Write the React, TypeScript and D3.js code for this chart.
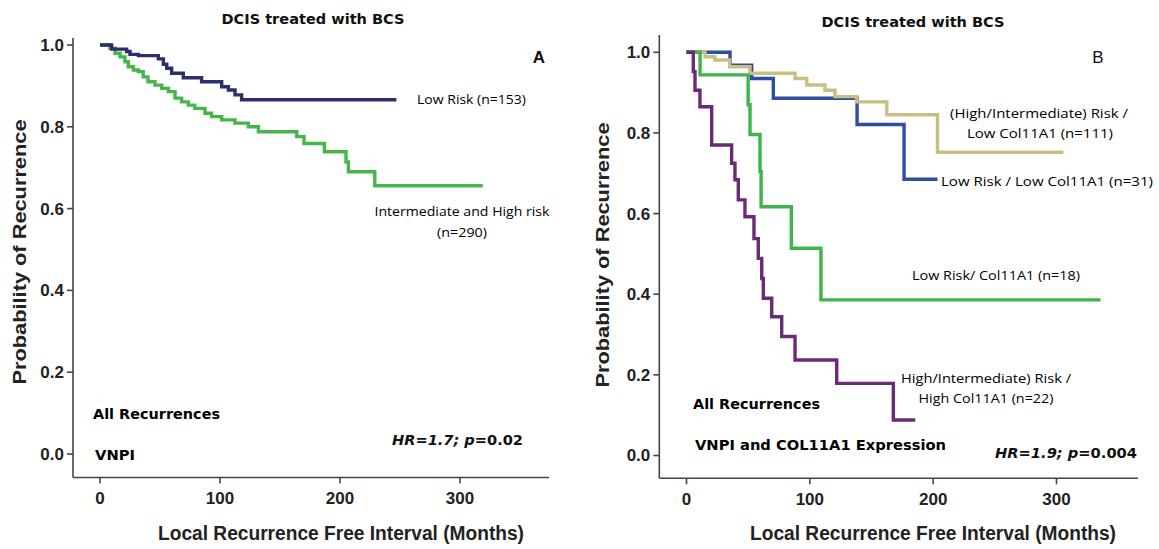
import * as d3 from "d3"
import { useRef, useEffect } from "react"

// tick values shared by both panels
const xTicks = [0, 100, 200, 300]
const yTicks = [0, 0.2, 0.4, 0.6, 0.8, 1.0]

// Panel A: VNPI
const lowRiskTimes = [0, 9.7, 22.2, 25, 32, 48.6, 52.8, 55.6, 59.7, 69.4, 84.7, 101.4, 107, 112.5, 118, 247]
const lowRiskSurv = [1, 0.99, 0.984, 0.977, 0.974, 0.966, 0.953, 0.943, 0.931, 0.92, 0.91, 0.898, 0.89, 0.878, 0.866, 0.866]

const intHighTimes = [0, 8.3, 12.5, 16.7, 20.8, 23.6, 27.8, 32, 36, 40, 45.8, 51.4, 57, 62.5, 68, 73.6, 79, 87.5, 93, 101.4, 112.5, 123.6, 132, 164, 170, 187, 205, 207, 229, 319]
const intHighSurv = [1, 0.992, 0.98, 0.971, 0.959, 0.947, 0.939, 0.935, 0.922, 0.91, 0.902, 0.894, 0.886, 0.87, 0.861, 0.853, 0.845, 0.833, 0.825, 0.817, 0.809, 0.8, 0.788, 0.776, 0.759, 0.739, 0.714, 0.69, 0.656, 0.656]

// Panel B: VNPI and COL11A1
const hiLowColTimes = [0, 15, 23, 35, 51.5, 88, 97.5, 112.3, 120.4, 138, 162.4, 203.5, 305.6]
const hiLowColSurv = [1, 0.989, 0.981, 0.964, 0.948, 0.935, 0.919, 0.906, 0.89, 0.877, 0.845, 0.752, 0.752]

const lowLowColTimes = [0, 35.3, 52.9, 70.4, 138.3, 176.4, 203.5]
const lowLowColSurv = [1, 0.968, 0.935, 0.886, 0.821, 0.685, 0.685]

const lowColTimes = [0, 11, 50, 51.5, 59.6, 60.5, 85, 109, 335.7]
const lowColSurv = [1, 0.944, 0.87, 0.796, 0.704, 0.617, 0.514, 0.386, 0.386]

const hiHighColTimes = [0, 5.5, 6.9, 10.9, 20.4, 36.6, 39.3, 42, 47.4, 54.7, 58.2, 61, 62.3, 69.1, 77.2, 88, 121.8, 167.7, 185.5]
const hiHighColSurv = [1, 0.952, 0.906, 0.865, 0.77, 0.725, 0.684, 0.634, 0.592, 0.538, 0.489, 0.439, 0.39, 0.344, 0.295, 0.237, 0.179, 0.088, 0.088]

type Curve = { times: number[]; surv: number[]; color: string }
type Label = {
  text: string
  x: number
  y: number
  anchor?: string
  bold?: boolean
  len?: number
}

type Panel = {
  xRange: [number, number]
  yRange: [number, number]
  axisX: number
  axisY: number
  axisRight: number
  axisTop: number
  title: { x: number; y: number }
  letter: { text: string; x: number; y: number; bold: boolean }
  yTitle: { x: number; y: number }
  xTitle: { x: number; y: number }
  curves: Curve[]
  labels: Label[]
  hr: { hr: string; p: string; x: number; y: number; len: number }
}

const panels: Panel[] = [
  {
    xRange: [100, 460],
    yRange: [454, 45],
    axisX: 73,
    axisY: 477.5,
    axisRight: 549,
    axisTop: 38,
    title: { x: 313, y: 19 },
    letter: { text: "A", x: 539, y: 57, bold: true },
    yTitle: { x: 19, y: 252 },
    xTitle: { x: 341, y: 533 },
    curves: [
      { times: intHighTimes, surv: intHighSurv, color: "#45b649" },
      { times: lowRiskTimes, surv: lowRiskSurv, color: "#2c2f6c" },
    ],
    labels: [
      { text: "Low Risk (n=153)", x: 417, y: 99, len: 109 },
      { text: "Intermediate and High risk", x: 462, y: 211, anchor: "middle", len: 175 },
      { text: "(n=290)", x: 462, y: 232, anchor: "middle", len: 50 },
      { text: "All Recurrences", x: 93, y: 414, bold: true, len: 127 },
      { text: "VNPI", x: 95, y: 455, bold: true, len: 40 },
    ],
    hr: { hr: "1.7", p: "0.02", x: 523, y: 440, len: 131 },
  },
  {
    xRange: [686.5, 1056.5],
    yRange: [455.5, 52.3],
    axisX: 659.3,
    axisY: 478.3,
    axisRight: 1138,
    axisTop: 35,
    title: { x: 913, y: 22 },
    letter: { text: "B", x: 1098, y: 57, bold: false },
    yTitle: { x: 602, y: 255 },
    xTitle: { x: 933, y: 533 },
    curves: [
      { times: lowLowColTimes, surv: lowLowColSurv, color: "#2f4ea1" },
      { times: hiLowColTimes, surv: hiLowColSurv, color: "#c9bf82" },
      { times: lowColTimes, surv: lowColSurv, color: "#3db54a" },
      { times: hiHighColTimes, surv: hiHighColSurv, color: "#6b2a76" },
    ],
    labels: [
      { text: "(High/Intermediate) Risk /", x: 1039, y: 113, anchor: "middle", len: 178 },
      { text: "Low Col11A1 (n=111)", x: 1040, y: 133, anchor: "middle", len: 146 },
      { text: "Low Risk / Low Col11A1 (n=31)", x: 941, y: 181, len: 212 },
      { text: "Low Risk/ Col11A1 (n=18)", x: 996, y: 275, anchor: "middle", len: 168 },
      { text: "High/Intermediate) Risk /", x: 986, y: 378, anchor: "middle", len: 170 },
      { text: "High Col11A1 (n=22)", x: 986, y: 398, anchor: "middle", len: 135 },
      { text: "All Recurrences", x: 693, y: 404, bold: true, len: 127 },
      { text: "VNPI and COL11A1 Expression", x: 695, y: 445, bold: true, len: 251 },
    ],
    hr: { hr: "1.9", p: "0.004", x: 1137, y: 453, len: 142 },
  },
]

const tickFont = "'Liberation Sans', Arial, sans-serif"
const labelFont = "'Open Sans', 'Noto Sans', sans-serif"
const boldFont = "'DejaVu Sans', Verdana, sans-serif"

export default function App() {
  const svgRef = useRef<SVGSVGElement>(null)

  useEffect(() => {
    const svg = d3.select(svgRef.current)
    svg.selectAll("*").remove()

    panels.forEach((p) => {
      const x = d3.scaleLinear().domain([0, 300]).range(p.xRange)
      const y = d3.scaleLinear().domain([0, 1]).range(p.yRange)
      const g = svg.append("g")

      // axis lines
      g.append("line")
        .attr("x1", p.axisX).attr("x2", p.axisRight)
        .attr("y1", p.axisY).attr("y2", p.axisY)
        .attr("stroke", "#444").attr("stroke-width", 1.6)
      g.append("line")
        .attr("x1", p.axisX).attr("x2", p.axisX)
        .attr("y1", p.axisTop).attr("y2", p.axisY)
        .attr("stroke", "#444").attr("stroke-width", 1.6)

      // x ticks
      const xt = g.selectAll(".xt").data(xTicks).join("g")
        .attr("transform", (d) => `translate(${x(d)},${p.axisY})`)
      xt.append("line").attr("y2", 6).attr("stroke", "#444").attr("stroke-width", 1.6)
      xt.append("text")
        .attr("y", 21)
        .attr("dy", "0.35em")
        .attr("text-anchor", "middle")
        .attr("font-family", tickFont)
        .attr("font-weight", "bold")
        .attr("font-size", 17)
        .attr("fill", "#222")
        .text((d) => String(d))

      // y ticks
      const yt = g.selectAll(".yt").data(yTicks).join("g")
        .attr("transform", (d) => `translate(${p.axisX},${y(d)})`)
      yt.append("line").attr("x2", -6).attr("stroke", "#444").attr("stroke-width", 1.6)
      yt.append("text")
        .attr("x", -9)
        .attr("dy", "0.35em")
        .attr("text-anchor", "end")
        .attr("font-family", tickFont)
        .attr("font-weight", "bold")
        .attr("font-size", 17)
        .attr("fill", "#222")
        .text((d) => d.toFixed(1))

      // axis titles
      g.append("text")
        .attr("x", p.xTitle.x).attr("y", p.xTitle.y)
        .attr("dy", "0.35em")
        .attr("text-anchor", "middle")
        .attr("font-family", tickFont)
        .attr("font-weight", "bold")
        .attr("font-size", 20)
        .attr("fill", "#222")
        .attr("textLength", 366)
        .attr("lengthAdjust", "spacingAndGlyphs")
        .text("Local Recurrence Free Interval (Months)")
      g.append("text")
        .attr("transform", `translate(${p.yTitle.x},${p.yTitle.y}) rotate(-90)`)
        .attr("dy", "0.35em")
        .attr("text-anchor", "middle")
        .attr("font-family", tickFont)
        .attr("font-weight", "bold")
        .attr("font-size", 19)
        .attr("fill", "#222")
        .attr("textLength", 265)
        .attr("lengthAdjust", "spacingAndGlyphs")
        .text("Probability of Recurrence")

      // title and panel letter
      g.append("text")
        .attr("x", p.title.x).attr("y", p.title.y)
        .attr("dy", "0.35em")
        .attr("text-anchor", "middle")
        .attr("font-family", boldFont)
        .attr("font-weight", "bold")
        .attr("font-size", 14)
        .attr("fill", "#111")
        .attr("textLength", 183)
        .attr("lengthAdjust", "spacingAndGlyphs")
        .text("DCIS treated with BCS")
      g.append("text")
        .attr("x", p.letter.x).attr("y", p.letter.y)
        .attr("dy", "0.35em")
        .attr("text-anchor", "middle")
        .attr("font-family", tickFont)
        .attr("font-weight", p.letter.bold ? "bold" : "normal")
        .attr("font-size", 17)
        .attr("fill", "#111")
        .text(p.letter.text)

      // survival curves
      const line = d3.line<[number, number]>()
        .x((d) => x(d[0]))
        .y((d) => y(d[1]))
        .curve(d3.curveStepAfter)
      p.curves.forEach((c) => {
        const pts = c.times.map((t, i) => [t, c.surv[i]] as [number, number])
        g.append("path")
          .attr("d", line(pts))
          .attr("fill", "none")
          .attr("stroke", c.color)
          .attr("stroke-width", 3.4)
      })

      // annotations
      p.labels.forEach((l) => {
        const t = g.append("text")
          .attr("x", l.x).attr("y", l.y)
          .attr("dy", "0.35em")
          .attr("text-anchor", l.anchor ?? "start")
          .attr("font-family", l.bold ? boldFont : labelFont)
          .attr("font-weight", l.bold ? "bold" : "normal")
          .attr("font-size", l.bold ? 13.5 : 13.5)
          .attr("fill", "#000")
          .text(l.text)
        if (l.len) t.attr("textLength", l.len).attr("lengthAdjust", "spacingAndGlyphs")
      })

      const hr = g.append("text")
        .attr("x", p.hr.x).attr("y", p.hr.y)
        .attr("dy", "0.35em")
        .attr("text-anchor", "end")
        .attr("font-family", boldFont)
        .attr("font-weight", "bold")
        .attr("font-size", 13.5)
        .attr("fill", "#111")
        .attr("textLength", p.hr.len)
        .attr("lengthAdjust", "spacingAndGlyphs")
      hr.append("tspan").attr("font-style", "italic").text(`HR=${p.hr.hr}; p`)
      hr.append("tspan").text(`=${p.hr.p}`)
    })
  }, [])

  return (
    <>
      <style>{`body{margin:0;background:#fff}`}</style>
      <svg ref={svgRef} width={1159} height={549} style={{ display: "block" }}></svg>
    </>
  )
}
